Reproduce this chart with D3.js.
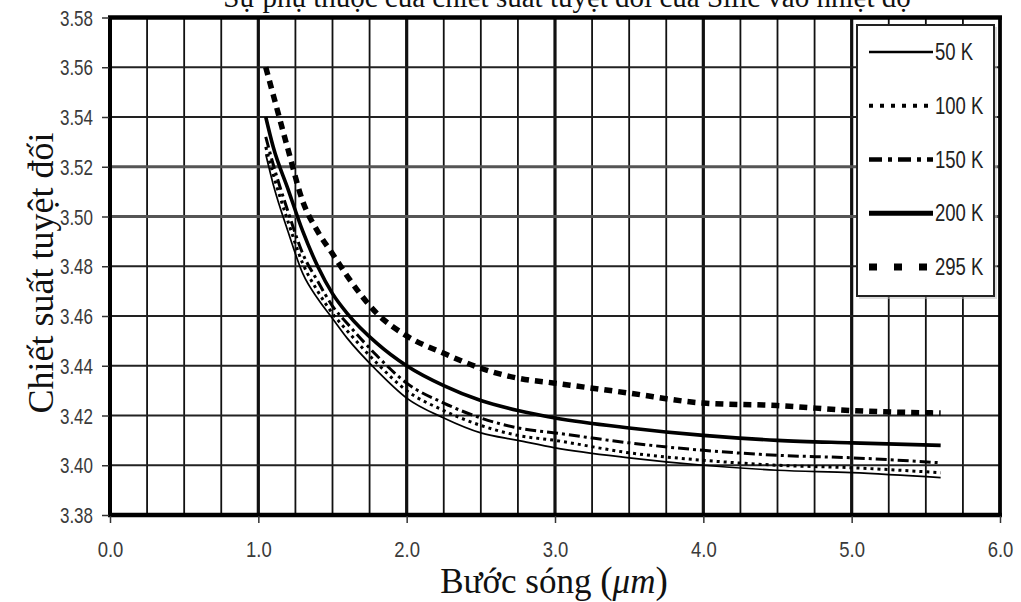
<!doctype html>
<html>
<head>
<meta charset="utf-8">
<title>Chiet suat Si</title>
<script src="https://d3js.org/d3.v7.min.js"></script>
<style>
  body { margin: 0; background: #fff; }
  svg { display: block; }
  .tick-label { font-family: "Liberation Sans", Arial, sans-serif; fill: #3a3a3a; }
  .serif { font-family: "Liberation Serif", "Times New Roman", serif; fill: #111; }
</style>
</head>
<body>
<script>

var wavelength = [1.05, 1.1, 1.2, 1.3, 1.4, 1.5, 1.6, 1.8, 2.0, 2.25, 2.5, 2.75, 3.0, 3.5, 4.0, 4.5, 5.0, 5.6];

var n50K  = [3.525, 3.513, 3.494, 3.477, 3.467, 3.459, 3.451, 3.438, 3.427, 3.419, 3.413, 3.410, 3.407, 3.403, 3.400, 3.398, 3.397, 3.395];
var n100K = [3.528, 3.517, 3.498, 3.481, 3.470, 3.461, 3.454, 3.441, 3.430, 3.422, 3.416, 3.412, 3.410, 3.405, 3.402, 3.400, 3.399, 3.397];
var n150K = [3.532, 3.521, 3.502, 3.485, 3.474, 3.464, 3.457, 3.444, 3.433, 3.425, 3.419, 3.415, 3.413, 3.409, 3.406, 3.404, 3.403, 3.401];
var n200K = [3.540, 3.528, 3.511, 3.494, 3.480, 3.469, 3.461, 3.449, 3.440, 3.432, 3.426, 3.422, 3.419, 3.415, 3.412, 3.410, 3.409, 3.408];
var n295K = [3.560, 3.549, 3.527, 3.506, 3.494, 3.485, 3.476, 3.461, 3.452, 3.445, 3.439, 3.435, 3.433, 3.429, 3.425, 3.424, 3.422, 3.421];

var seriesNames = ["50 K", "100 K", "150 K", "200 K", "295 K"];
var xTicks = [0, 1, 2, 3, 4, 5, 6];
var yTicks = [3.38, 3.40, 3.42, 3.44, 3.46, 3.48, 3.50, 3.52, 3.54, 3.56, 3.58];

var titleText = "Sự phụ thuộc của chiết suất tuyệt đối của Silic vào nhiệt độ";
var yTitle = "Chiết suất tuyệt đối";

// line look per series: width, dash (chart) and lw, ldash (legend)
var styles = [
  {w: 1.7, dash: null,       lw: 2.5, ldash: null},
  {w: 3,   dash: "3,4",      lw: 4,   ldash: "4,7"},
  {w: 3,   dash: "11,4,3,4", lw: 4.5, ldash: "13,6,4,6"},
  {w: 3.6, dash: null,       lw: 5,   ldash: null},
  {w: 5.5, dash: "8,6",      lw: 7,   ldash: "8,17"}
];

var allSeries = [n50K, n100K, n150K, n200K, n295K];

var W = 1021, H = 602;
var svg = d3.select("body").append("svg").attr("width", W).attr("height", H);
svg.append("rect").attr("width", W).attr("height", H).attr("fill", "#fff");

var x = d3.scaleLinear().domain([0, 6]).range([110, 1000]);
var y = d3.scaleLinear().domain([3.38, 3.58]).range([515, 17.5]);

// grid
var vLines = d3.range(0, 6.001, 0.25);
svg.append("g").selectAll("line").data(vLines).enter().append("line")
  .attr("x1", function(d){ return x(d); }).attr("x2", function(d){ return x(d); })
  .attr("y1", y(3.58)).attr("y2", y(3.38))
  .attr("stroke", "#111")
  .attr("stroke-width", function(d){ return Math.abs(d - Math.round(d)) < 1e-6 ? 3.2 : 1.8; });

svg.append("g").selectAll("line").data(yTicks).enter().append("line")
  .attr("x1", x(0)).attr("x2", x(6))
  .attr("y1", function(d){ return y(d); }).attr("y2", function(d){ return y(d); })
  .attr("stroke", function(d){ return (Math.abs(d - 3.52) < 1e-6 || Math.abs(d - 3.50) < 1e-6) ? "#555" : "#222"; })
  .attr("stroke-width", function(d){ return (Math.abs(d - 3.52) < 1e-6 || Math.abs(d - 3.50) < 1e-6) ? 3 : 1.8; });

// frame
svg.append("line").attr("x1", x(0) - 2).attr("x2", x(6) + 2).attr("y1", y(3.58)).attr("y2", y(3.58)).attr("stroke", "#000").attr("stroke-width", 4.5);
svg.append("line").attr("x1", x(0) - 2).attr("x2", x(6) + 2).attr("y1", y(3.38)).attr("y2", y(3.38)).attr("stroke", "#000").attr("stroke-width", 4.5);
svg.append("line").attr("x1", x(0)).attr("x2", x(0)).attr("y1", y(3.58)).attr("y2", y(3.38)).attr("stroke", "#000").attr("stroke-width", 4);
svg.append("line").attr("x1", x(6)).attr("x2", x(6)).attr("y1", y(3.58)).attr("y2", y(3.38)).attr("stroke", "#000").attr("stroke-width", 3.5);

// axes (labels are a bit tall and narrow in the original)
var yaxis = d3.axisLeft(y).tickValues(yTicks).tickSize(7).tickFormat(d3.format(".2f"));
var gy = svg.append("g").attr("transform", "translate(" + (x(0) - 1) + ",0)").call(yaxis);
gy.select(".domain").remove();
gy.selectAll("line").attr("stroke", "#333").attr("stroke-width", 1.5);
gy.selectAll("text").attr("class", "tick-label")
  .attr("font-size", "17px").attr("font-family", null).attr("fill", null)
  .attr("x", null).attr("dy", null)
  .attr("transform", "translate(-16,7.5) scale(1,1.25)");

var xaxis = d3.axisBottom(x).tickValues(xTicks).tickSize(7).tickFormat(d3.format(".1f"));
var gx = svg.append("g").attr("transform", "translate(0," + (y(3.38) + 1) + ")").call(xaxis);
gx.select(".domain").remove();
gx.selectAll("line").attr("stroke", "#333").attr("stroke-width", 1.5);
gx.selectAll("text").attr("class", "tick-label")
  .attr("font-size", "18.5px").attr("font-family", null).attr("fill", null)
  .attr("y", null).attr("dy", null)
  .attr("transform", "translate(0,41) scale(1,1.15)");

// curves
var line = d3.line()
  .x(function(d){ return x(d[0]); })
  .y(function(d){ return y(d[1]); })
  .curve(d3.curveMonotoneX);

allSeries.forEach(function(vals, i){
  var pts = wavelength.map(function(w, j){ return [w, vals[j]]; });
  svg.append("path").datum(pts)
    .attr("d", line)
    .attr("fill", "none")
    .attr("stroke", "#000")
    .attr("stroke-width", styles[i].w)
    .attr("stroke-dasharray", styles[i].dash);
});

// legend
var lg = svg.append("g");
lg.append("rect").attr("x", 859).attr("y", 27).attr("width", 138).attr("height", 272).attr("fill", "#bbb").attr("opacity", 0.5);
lg.append("rect").attr("x", 857).attr("y", 25).attr("width", 137).attr("height", 271)
  .attr("fill", "#fff").attr("stroke", "#222").attr("stroke-width", 2);

var legendY = d3.scalePoint().domain(seriesNames).range([52, 267]);

seriesNames.forEach(function(name, i){
  lg.append("line")
    .attr("x1", 869).attr("x2", 933)
    .attr("y1", legendY(name)).attr("y2", legendY(name))
    .attr("stroke", "#000")
    .attr("stroke-width", styles[i].lw)
    .attr("stroke-dasharray", styles[i].ldash);
  lg.append("text").attr("class", "tick-label")
    .attr("transform", "translate(935," + (legendY(name) + 8) + ") scale(1,1.25)")
    .style("font-size", "18.5px")
    .style("fill", "#222")
    .text(name);
});

// titles
svg.append("text").attr("class", "serif")
  .attr("x", 567).attr("y", 7)
  .attr("text-anchor", "middle")
  .style("font-size", "29px")
  .text(titleText);

svg.append("text").attr("class", "serif")
  .attr("transform", "translate(53,273) rotate(-90)")
  .attr("text-anchor", "middle")
  .style("font-size", "36px")
  .text(yTitle);

var xt = svg.append("text").attr("class", "serif")
  .attr("x", 554).attr("y", 593)
  .attr("text-anchor", "middle")
  .style("font-size", "35px");
xt.append("tspan").text("Bước sóng ");
xt.append("tspan").style("font-size", "37px").text("(");
xt.append("tspan").style("font-style", "italic").text("μm");
xt.append("tspan").style("font-size", "37px").text(")");

</script>
</body>
</html>
